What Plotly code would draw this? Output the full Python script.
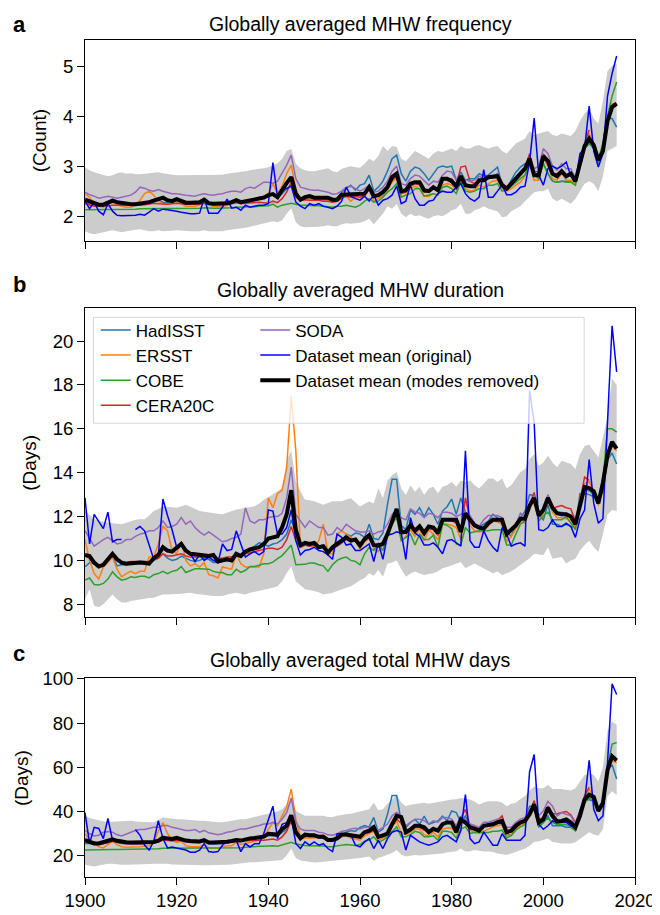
import plotly.graph_objects as go

years = list(range(1900, 2017))

# ---------------- Panel a: frequency (Count) ----------------
freq_hadisst = [
2.28, 2.25, 2.22, 2.20, 2.20, 2.25, 2.28, 2.25, 2.22, 2.22,
2.22, 2.23, 2.25, 2.27, 2.30, 2.33, 2.32, 2.28, 2.27, 2.30,
2.30, 2.27, 2.24, 2.24, 2.24, 2.25, 2.30, 2.23, 2.23, 2.22,
2.22, 2.24, 2.26, 2.30, 2.26, 2.28, 2.32, 2.34, 2.38, 2.40,
2.42, 2.42, 2.36, 2.45, 2.55, 2.62, 2.40, 2.32, 2.35, 2.36,
2.35, 2.34, 2.33, 2.33, 2.32, 2.35, 2.48, 2.55, 2.62, 2.52,
2.62, 2.65, 2.82, 2.50, 2.58, 2.70, 2.90, 3.15, 3.22, 2.85,
2.70, 2.90, 2.98, 2.95, 2.85, 2.72, 2.85, 2.97, 3.00, 2.98,
3.00, 2.72, 2.88, 2.72, 2.75, 2.75, 2.85, 2.80, 2.82, 2.90,
2.98, 2.62, 2.55, 2.72, 2.88, 2.98, 3.05, 3.05, 2.90, 2.88,
3.05, 2.85, 2.70, 2.68, 2.70, 2.70, 2.70, 2.70, 3.05, 3.35,
3.45, 3.35, 3.05, 3.38, 3.95, 3.95, 3.78]
freq_ersst = [
2.45, 2.38, 2.25, 2.20, 2.18, 2.25, 2.28, 2.23, 2.20, 2.18,
2.18, 2.22, 2.32, 2.45, 2.50, 2.42, 2.30, 2.25, 2.25, 2.28,
2.30, 2.25, 2.20, 2.20, 2.20, 2.22, 2.30, 2.22, 2.20, 2.20,
2.20, 2.22, 2.25, 2.30, 2.25, 2.28, 2.30, 2.32, 2.35, 2.40,
2.45, 2.65, 2.45, 2.60, 2.85, 3.02, 2.55, 2.30, 2.35, 2.35,
2.35, 2.35, 2.33, 2.32, 2.28, 2.30, 2.38, 2.40, 2.30, 2.38,
2.32, 2.40, 2.55, 2.30, 2.35, 2.42, 2.52, 2.68, 2.78, 2.38,
2.42, 2.55, 2.60, 2.55, 2.40, 2.40, 2.45, 2.42, 2.62, 2.65,
2.62, 2.52, 2.72, 2.55, 2.50, 2.52, 2.62, 2.58, 2.65, 2.70,
2.72, 2.55, 2.50, 2.55, 2.62, 2.68, 2.80, 3.05, 2.72, 2.72,
3.15, 3.00, 2.75, 2.72, 2.85, 2.72, 2.72, 2.62, 3.05, 3.35,
3.65, 3.40, 3.10, 3.35, 3.95, 4.25, 4.25]
freq_cobe = [
2.13, 2.13, 2.13, 2.13, 2.13, 2.14, 2.14, 2.14, 2.14, 2.14,
2.14, 2.14, 2.15, 2.15, 2.15, 2.15, 2.15, 2.15, 2.15, 2.15,
2.16, 2.16, 2.16, 2.16, 2.16, 2.16, 2.17, 2.16, 2.16, 2.16,
2.16, 2.17, 2.17, 2.18, 2.18, 2.18, 2.19, 2.19, 2.20, 2.20,
2.21, 2.24, 2.18, 2.22, 2.24, 2.26, 2.24, 2.22, 2.22, 2.21,
2.21, 2.21, 2.20, 2.19, 2.18, 2.20, 2.20, 2.22, 2.20, 2.18,
2.22, 2.30, 2.35, 2.28, 2.30, 2.38, 2.48, 2.55, 2.65, 2.38,
2.42, 2.45, 2.55, 2.55, 2.40, 2.42, 2.45, 2.42, 2.58, 2.60,
2.55, 2.45, 2.68, 2.50, 2.48, 2.50, 2.55, 2.55, 2.62, 2.62,
2.65, 2.50, 2.52, 2.60, 2.68, 2.75, 2.82, 3.05, 2.82, 2.75,
3.05, 2.85, 2.70, 2.68, 2.70, 2.68, 2.68, 2.62, 3.05, 3.35,
3.45, 3.40, 3.15, 3.45, 4.00, 4.40, 4.68]
freq_cera20c = [
2.25, 2.22, 2.20, 2.20, 2.20, 2.21, 2.22, 2.22, 2.21, 2.21,
2.21, 2.22, 2.22, 2.23, 2.24, 2.26, 2.25, 2.24, 2.24, 2.25,
2.26, 2.25, 2.24, 2.24, 2.24, 2.24, 2.26, 2.24, 2.24, 2.24,
2.24, 2.24, 2.25, 2.27, 2.25, 2.26, 2.27, 2.28, 2.28, 2.27,
2.26, 2.30, 2.27, 2.35, 2.48, 2.68, 2.38, 2.32, 2.33, 2.32,
2.32, 2.32, 2.30, 2.30, 2.28, 2.30, 2.35, 2.40, 2.38, 2.40,
2.38, 2.42, 2.55, 2.38, 2.40, 2.48, 2.58, 2.72, 2.80, 2.45,
2.48, 2.60, 2.65, 2.62, 2.48, 2.48, 2.55, 2.50, 2.72, 2.75,
2.75, 2.62, 2.98, 3.00, 2.70, 2.65, 2.72, 2.70, 2.75, 2.78,
2.85, 2.65, 2.58, 2.65, 2.75, 2.85, 2.95, 3.25, 2.85, 2.85,
3.25, 3.05, 2.85, 2.85, 2.92, 2.82, 2.82, 2.72, 3.10, 3.45,
3.72]
freq_soda = [
2.48, 2.43, 2.40, 2.36, 2.38, 2.40, 2.38, 2.36, 2.38, 2.40,
2.42, 2.48, 2.58, 2.56, 2.52, 2.50, 2.53, 2.50, 2.47, 2.45,
2.45, 2.43, 2.42, 2.41, 2.40, 2.43, 2.45, 2.43, 2.42, 2.44,
2.45, 2.48, 2.50, 2.50, 2.48, 2.55, 2.58, 2.56, 2.62, 2.68,
2.68, 2.66, 2.70, 2.85, 3.02, 3.22, 2.75, 2.58, 2.55, 2.53,
2.52, 2.52, 2.50, 2.48, 2.44, 2.45, 2.50, 2.58, 2.60, 2.55,
2.50, 2.55, 2.62, 2.48, 2.50, 2.58, 2.70, 2.90, 3.00, 2.65,
2.62, 2.75, 2.82, 2.80, 2.70, 2.62, 2.70, 2.68, 2.82, 2.90,
2.88, 2.72, 2.82, 2.72, 2.70, 2.72, 2.80, 2.75, 2.78, 2.82,
2.85, 2.68, 2.55, 2.65, 2.78, 2.88, 2.95, 3.12, 2.95, 3.00,
3.35, 3.25, 3.00, 2.92, 3.05, 2.95, 2.95, 2.75, 3.05, 3.40,
3.55]
freq_mean_orig = [
2.30, 2.15, 2.28, 2.10, 2.03, 2.25, 2.10, 2.02, 2.01, 2.01,
2.01, 2.02, 2.04, 2.02, 2.08, 2.15, 2.10, 2.14, 2.13, 2.12,
2.10, 2.08, 2.06, 2.05, 2.05, 2.06, 2.36, 2.06, 2.06, 2.06,
2.18, 2.34, 2.16, 2.18, 2.12, 2.22, 2.18, 2.20, 2.22, 2.22,
2.25, 3.07, 2.38, 2.55, 2.55, 2.60, 2.28, 2.20, 2.15, 2.25,
2.22, 2.25, 2.20, 2.18, 2.15, 2.20, 2.30, 2.58, 2.40, 2.35,
2.32, 2.40, 2.30, 2.42, 2.22, 2.32, 2.35, 2.42, 2.60, 2.25,
2.30, 2.62, 2.35, 2.22, 2.22, 2.30, 2.32, 2.45, 2.50, 2.48,
2.48, 2.58, 2.65, 2.45, 2.35, 2.30, 2.38, 2.93, 2.38, 2.38,
2.50, 2.62, 2.43, 2.43, 2.48, 2.58, 2.60, 3.08, 3.96, 2.82,
2.62, 2.95, 3.00, 2.95, 3.00, 3.08, 2.80, 2.68, 3.25, 3.35,
4.20, 3.30, 2.98, 3.25, 4.40, 4.85, 5.20]
freq_mean_nomodes = [
2.33, 2.29, 2.26, 2.23, 2.23, 2.27, 2.31, 2.28, 2.26, 2.25,
2.24, 2.24, 2.25, 2.26, 2.28, 2.31, 2.35, 2.37, 2.32, 2.30,
2.34, 2.30, 2.27, 2.27, 2.27, 2.28, 2.33, 2.26, 2.25, 2.25,
2.25, 2.26, 2.28, 2.32, 2.28, 2.30, 2.33, 2.34, 2.36, 2.37,
2.42, 2.44, 2.38, 2.53, 2.66, 2.78, 2.45, 2.33, 2.38, 2.40,
2.37, 2.37, 2.37, 2.37, 2.33, 2.33, 2.43, 2.43, 2.43, 2.43,
2.43, 2.45, 2.58, 2.40, 2.42, 2.48, 2.58, 2.78, 2.85, 2.50,
2.52, 2.65, 2.68, 2.68, 2.52, 2.50, 2.58, 2.52, 2.75, 2.75,
2.70, 2.60, 2.80, 2.62, 2.60, 2.60, 2.72, 2.72, 2.78, 2.80,
2.80, 2.62, 2.55, 2.65, 2.75, 2.85, 2.95, 3.15, 2.82, 2.82,
3.20, 3.10, 2.85, 2.80, 2.90, 2.80, 2.85, 2.70, 3.05, 3.40,
3.55, 3.42, 3.12, 3.30, 3.90, 4.18, 4.25]
freq_band_hi = [
2.98, 2.92, 2.88, 2.85, 2.82, 2.80, 2.82, 2.86, 2.88, 2.85,
2.86, 2.84, 2.84, 2.85, 2.86, 2.88, 2.88, 2.86, 2.84, 2.83,
2.82, 2.82, 2.82, 2.82, 2.82, 2.82, 2.83, 2.82, 2.82, 2.83,
2.83, 2.85, 2.86, 2.88, 2.88, 2.90, 2.92, 2.94, 2.95, 2.96,
2.98, 3.02, 3.06, 3.15, 3.30, 3.34, 3.05, 2.96, 2.92, 2.90,
2.90, 2.92, 2.94, 2.96, 2.90, 2.88, 2.95, 2.98, 3.00, 2.98,
2.97, 3.05, 3.15, 3.10, 3.20, 3.40, 3.30, 3.40, 3.38, 3.15,
3.10, 3.20, 3.30, 3.25, 3.20, 3.15, 3.25, 3.30, 3.28, 3.32,
3.35, 3.30, 3.40, 3.35, 3.35, 3.40, 3.42, 3.38, 3.35, 3.38,
3.40, 3.30, 3.25, 3.35, 3.45, 3.50, 3.55, 3.70, 3.62, 3.65,
3.68, 3.70, 3.62, 3.60, 3.65, 3.62, 3.60, 3.70, 3.90, 4.05,
4.15, 3.95, 3.85, 4.30, 4.90, 5.00, 5.05]
freq_band_lo = [
1.70, 1.66, 1.64, 1.66, 1.68, 1.70, 1.72, 1.70, 1.68, 1.70,
1.72, 1.73, 1.74, 1.72, 1.70, 1.70, 1.72, 1.70, 1.70, 1.71,
1.72, 1.71, 1.70, 1.70, 1.70, 1.70, 1.72, 1.70, 1.70, 1.70,
1.70, 1.72, 1.73, 1.75, 1.76, 1.77, 1.79, 1.81, 1.83, 1.86,
1.87, 1.90, 1.88, 1.92, 2.05, 2.16, 1.88, 1.80, 1.78, 1.78,
1.78, 1.79, 1.80, 1.82, 1.80, 1.80, 1.84, 1.86, 1.85, 1.86,
1.87, 1.90, 1.95, 1.84, 1.95, 2.05, 2.20, 2.15, 2.25, 2.05,
1.98, 2.05, 2.00, 2.02, 1.98, 1.95, 2.00, 2.02, 2.00, 2.05,
2.12, 2.15, 2.25, 2.05, 2.05, 2.12, 2.15, 2.20, 2.15, 2.12,
2.10, 1.98, 2.00, 2.10, 2.15, 2.20, 2.30, 2.40, 2.48, 2.50,
2.50, 2.55, 2.35, 2.30, 2.35, 2.30, 2.25, 2.35, 2.50, 2.65,
2.70, 2.65, 2.50, 2.80, 3.30, 3.35, 3.40]

# ---------------- Panel b: duration (Days) ----------------
dur_hadisst = [
9.70, 9.90, 9.85, 9.75, 9.80, 10.00, 10.20, 9.75, 9.80, 9.80,
9.85, 9.90, 9.95, 9.95, 9.90, 10.00, 10.10, 10.30, 10.10, 10.00,
10.05, 10.20, 10.10, 10.00, 9.95, 10.00, 10.10, 10.05, 9.90, 9.90,
9.95, 10.00, 9.95, 10.20, 10.15, 10.35, 10.55, 10.65, 10.80, 10.75,
10.65, 10.75, 10.80, 10.95, 11.20, 11.85, 11.20, 10.60, 10.70, 10.65,
10.70, 10.55, 10.60, 10.30, 10.55, 10.65, 10.80, 11.20, 11.10, 11.25,
11.20, 11.05, 11.65, 11.00, 10.95, 11.25, 12.55, 13.70, 13.70, 11.60,
11.40, 12.30, 12.10, 12.40, 12.00, 12.40, 12.10, 11.65, 12.25, 12.45,
12.80, 12.10, 12.85, 12.20, 11.90, 11.55, 11.55, 11.65, 11.80, 12.10,
11.95, 11.65, 11.30, 11.10, 11.65, 11.95, 12.25, 13.00, 12.95, 12.05,
11.85, 12.55, 11.65, 11.65, 11.55, 11.65, 11.55, 11.50, 13.05, 13.05,
13.00, 12.90, 12.75, 13.10, 14.60, 14.90, 14.40]
dur_ersst = [
10.95, 10.00, 9.40, 9.15, 9.70, 9.90, 10.15, 9.60, 9.25, 9.40,
9.50, 9.40, 9.50, 9.50, 10.15, 10.15, 10.75, 11.55, 11.35, 10.45,
10.30, 10.85, 10.00, 9.75, 9.85, 9.70, 9.90, 9.35, 9.30, 9.20,
9.70, 9.65, 9.60, 10.30, 9.85, 9.70, 9.70, 9.70, 9.70, 10.30,
12.85, 12.40, 13.05, 13.20, 14.20, 17.50, 15.00, 10.60, 10.70, 10.75,
10.60, 10.90, 11.65, 10.30, 10.30, 11.20, 11.35, 11.20, 11.05, 10.90,
10.50, 10.85, 11.00, 10.55, 10.40, 10.70, 11.05, 11.70, 12.10, 10.90,
11.10, 11.40, 11.10, 11.45, 10.90, 11.40, 11.20, 10.95, 11.70, 11.65,
11.60, 11.50, 10.95, 12.20, 11.60, 11.35, 11.30, 11.35, 11.60, 11.80,
11.75, 11.65, 10.85, 11.10, 11.45, 11.75, 11.70, 12.35, 12.70, 11.90,
12.15, 12.70, 12.20, 11.95, 11.95, 11.90, 11.80, 11.50, 12.45, 13.50,
13.60, 13.10, 12.50, 13.55, 14.70, 15.20, 15.00]
dur_cobe = [
9.10, 9.20, 8.90, 8.88, 8.95, 9.15, 9.48, 9.25, 9.10, 9.15,
9.25, 9.22, 9.28, 9.28, 9.20, 9.35, 9.40, 9.50, 9.40, 9.50,
9.55, 9.72, 9.45, 9.55, 9.62, 9.62, 9.62, 9.60, 9.50, 9.45,
9.45, 9.35, 9.35, 9.60, 9.45, 9.55, 9.72, 9.72, 9.78, 9.85,
9.85, 9.92, 10.08, 10.22, 10.45, 10.70, 9.80, 9.80, 9.82, 9.88,
9.88, 9.80, 9.75, 9.50, 9.80, 10.00, 10.10, 10.15, 10.00, 9.95,
9.80, 10.30, 10.60, 10.45, 10.75, 10.45, 11.20, 11.65, 11.95, 10.90,
11.05, 11.20, 10.70, 11.20, 10.95, 10.95, 11.15, 10.60, 11.65, 11.60,
11.45, 10.75, 10.70, 11.50, 11.25, 11.30, 11.35, 11.35, 11.35, 11.40,
11.40, 11.40, 10.70, 10.70, 11.20, 11.65, 11.80, 12.55, 12.75, 11.80,
12.05, 12.20, 11.85, 11.85, 11.85, 12.00, 11.70, 11.40, 12.75, 13.20,
13.20, 12.95, 12.60, 13.65, 16.00, 16.00, 15.85]
dur_cera20c = [
10.20, 10.10, 9.85, 9.75, 9.85, 10.00, 10.20, 10.00, 9.90, 9.90,
9.95, 9.95, 9.95, 9.95, 9.95, 10.05, 10.10, 10.30, 10.20, 10.20,
10.25, 10.30, 10.20, 10.15, 10.15, 10.15, 10.15, 10.15, 10.20, 10.10,
10.10, 10.15, 10.15, 10.25, 10.20, 10.30, 10.35, 10.40, 10.45, 10.50,
10.55, 10.55, 10.50, 10.60, 10.95, 11.55, 10.90, 10.60, 10.70, 10.65,
10.70, 10.60, 10.60, 10.40, 10.55, 10.65, 10.80, 10.95, 10.85, 10.90,
10.65, 10.90, 11.05, 10.70, 10.60, 10.75, 11.15, 11.75, 12.25, 11.20,
11.25, 11.55, 11.30, 11.55, 11.15, 11.45, 11.40, 11.15, 11.80, 11.85,
11.80, 11.70, 11.30, 12.85, 11.90, 11.55, 11.45, 11.45, 11.70, 11.85,
11.85, 11.80, 11.15, 11.35, 11.60, 11.90, 11.95, 12.60, 13.10, 12.05,
12.35, 12.90, 12.35, 12.45, 12.50, 12.40, 12.35, 11.80, 12.70, 13.80,
13.65]
dur_soda = [
11.35, 11.00, 10.65, 10.80, 10.95, 11.05, 10.90, 10.75, 10.80, 10.95,
10.95, 11.10, 11.20, 11.25, 11.35, 11.35, 11.50, 11.80, 11.50, 11.55,
11.65, 11.95, 11.65, 11.80, 11.50, 11.30, 11.15, 11.30, 11.15, 11.00,
10.85, 10.90, 11.00, 11.05, 11.20, 12.40, 11.80, 11.70, 11.85, 11.85,
11.95, 12.00, 12.00, 12.15, 12.85, 14.25, 12.10, 11.80, 11.50, 11.80,
11.65, 11.50, 11.50, 11.15, 11.20, 11.50, 11.35, 11.65, 11.50, 11.35,
11.30, 11.30, 11.35, 11.20, 11.30, 11.35, 11.65, 12.10, 12.30, 11.95,
11.85, 12.35, 12.20, 12.15, 11.95, 12.15, 12.10, 11.95, 12.20, 12.20,
12.15, 12.00, 12.10, 12.20, 12.05, 11.70, 11.55, 11.85, 12.05, 12.05,
12.05, 11.95, 11.40, 11.35, 11.65, 12.15, 12.00, 12.45, 12.95, 12.20,
12.35, 13.00, 12.45, 12.20, 12.20, 12.10, 12.05, 11.75, 12.60, 13.30,
13.15]
dur_mean_orig = [
12.85, 10.75, 12.10, 11.80, 11.45, 12.20, 10.85, 10.95, 10.95, None,
None, 11.40, 11.55, 11.35, 10.65, 10.05, 10.20, 12.80, 12.05, 11.40,
10.60, 10.70, 10.45, 10.30, 9.95, 10.25, 10.00, 10.15, 10.00, 9.90,
10.75, 10.45, 10.50, 11.35, 10.75, 10.15, 10.30, 10.40, 10.25, 10.40,
12.30, 12.25, 11.20, 11.20, 11.50, 12.30, 10.90, 10.25, 10.45, 10.50,
10.60, 10.45, 10.40, 10.25, 10.05, 11.20, 11.05, 10.70, 10.75, 10.45,
10.45, 10.60, 10.75, 9.95, 10.80, 10.05, 11.15, 11.20, 11.30, 11.25,
10.05, 11.95, 11.25, 11.10, 10.70, 10.70, 10.80, 10.60, 10.30, 10.90,
10.95, 10.80, 10.65, 15.00, 10.90, 10.60, 10.60, 11.35, 10.90, 10.60,
10.40, 11.50, 11.20, 10.65, 10.75, 10.80, 10.65, 17.75, 16.30, 11.40,
11.35, 11.50, 11.85, 11.55, 11.55, 11.70, 11.55, 11.05, 11.90, 12.30,
14.60, 12.60, 11.70, 11.90, 16.30, 20.70, 18.60]
dur_mean_nomodes = [
10.25, 10.20, 9.90, 9.72, 9.80, 10.05, 10.30, 10.05, 9.90, 9.85,
9.88, 9.88, 9.90, 9.88, 9.85, 10.10, 10.25, 10.60, 10.45, 10.40,
10.55, 10.75, 10.45, 10.30, 10.28, 10.25, 10.22, 10.20, 10.25, 9.95,
10.00, 10.05, 10.00, 10.30, 10.20, 10.40, 10.50, 10.55, 10.60, 10.75,
11.00, 11.05, 11.10, 11.50, 12.10, 13.20, 11.40, 10.70, 10.80, 10.75,
10.80, 10.60, 10.65, 10.35, 10.60, 10.75, 10.90, 11.05, 10.90, 10.95,
10.68, 10.97, 11.15, 10.70, 10.68, 10.75, 11.20, 11.80, 12.35, 11.30,
11.30, 11.60, 11.35, 11.55, 11.25, 11.55, 11.50, 11.25, 11.85, 11.85,
11.85, 11.85, 11.30, 12.15, 11.85, 11.60, 11.50, 11.45, 11.70, 11.85,
11.85, 11.85, 11.20, 11.40, 11.60, 11.90, 11.90, 12.50, 12.85, 12.05,
12.30, 12.85, 12.40, 12.15, 12.10, 12.10, 12.00, 11.65, 12.55, 13.35,
13.30, 13.15, 12.60, 13.55, 14.80, 15.40, 15.10]
dur_band_hi = [
12.25, 12.05, 11.88, 11.80, 11.75, 11.73, 11.70, 11.68, 11.65, 11.72,
11.80, 11.85, 11.88, 11.88, 12.05, 12.25, 12.35, 12.47, 12.45, 12.42,
12.40, 12.47, 12.54, 12.45, 12.35, 12.25, 12.22, 12.20, 12.17, 12.13,
12.10, 12.18, 12.25, 12.32, 12.36, 12.40, 12.44, 12.47, 12.60, 12.77,
12.88, 13.00, 13.15, 13.30, 14.55, 15.00, 13.60, 13.15, 12.77, 12.74,
12.70, 12.62, 12.54, 12.62, 12.70, 12.70, 12.70, 12.78, 12.84, 12.65,
12.46, 12.58, 12.69, 12.60, 13.28, 12.83, 13.65, 13.88, 14.03, 13.28,
12.98, 13.43, 13.13, 13.36, 12.98, 13.28, 13.36, 13.06, 13.36, 13.43,
13.58, 13.36, 13.65, 13.58, 13.65, 13.43, 13.28, 13.50, 13.73, 13.73,
13.58, 13.73, 13.28, 13.43, 13.73, 14.03, 14.17, 14.62, 14.84, 14.32,
14.47, 14.77, 14.47, 14.25, 14.55, 14.47, 14.40, 14.17, 14.84, 15.22,
15.29, 14.99, 14.69, 15.59, 16.55, 18.30, 18.00]
dur_band_lo = [
8.23, 8.68, 7.93, 7.86, 8.00, 8.23, 8.45, 8.23, 8.08, 8.08,
8.15, 8.18, 8.23, 8.25, 8.28, 8.30, 8.38, 8.45, 8.45, 8.45,
8.45, 8.48, 8.50, 8.53, 8.48, 8.45, 8.42, 8.40, 8.38, 8.38,
8.38, 8.45, 8.50, 8.53, 8.48, 8.45, 8.52, 8.56, 8.60, 8.64,
8.68, 8.75, 8.82, 9.05, 9.42, 9.72, 9.05, 8.85, 8.68, 8.65,
8.60, 8.55, 8.45, 8.48, 8.53, 8.60, 8.68, 8.75, 8.82, 8.95,
9.10, 9.20, 9.41, 9.30, 9.56, 9.26, 9.86, 9.90, 10.00, 9.60,
9.26, 9.40, 9.49, 9.40, 9.34, 9.38, 9.41, 9.50, 9.64, 9.70,
9.78, 9.85, 9.93, 9.64, 9.75, 9.86, 9.75, 9.64, 9.55, 9.41,
9.49, 9.34, 9.41, 9.50, 9.64, 9.80, 9.93, 10.10, 10.30, 10.25,
10.23, 10.60, 10.08, 10.12, 10.16, 9.86, 10.00, 10.08, 10.45, 10.70,
10.90, 10.60, 10.38, 11.20, 12.09, 12.31, 12.24]

# ---------------- Panel c: total MHW days (Days) ----------------
days_hadisst = [
25.5, 25.5, 25.0, 25.0, 25.4, 25.8, 26.6, 25.9, 25.5, 25.4,
25.2, 25.2, 25.3, 25.4, 25.5, 25.8, 26.4, 27.4, 27.0, 26.6,
27.0, 26.6, 26.0, 25.9, 25.8, 25.8, 26.4, 25.4, 25.3, 25.3,
25.4, 25.7, 26.0, 26.5, 26.4, 27.0, 27.5, 27.8, 28.2, 28.6,
29.0, 29.0, 28.8, 30.5, 31.8, 35.5, 29.5, 27.6, 28.6, 28.4,
28.4, 28.0, 28.0, 27.0, 27.2, 28.0, 29.5, 30.6, 31.3, 31.0,
32.8, 33.6, 33.0, 37.3, 30.6, 32.0, 38.7, 47.2, 47.2, 35.0,
32.8, 35.0, 36.4, 34.2, 37.9, 34.2, 35.0, 35.7, 37.9, 35.7,
40.2, 39.5, 35.0, 37.9, 33.5, 32.8, 32.1, 33.5, 34.2, 35.0,
35.0, 34.2, 29.9, 29.2, 32.1, 34.2, 35.7, 42.4, 42.4, 32.8,
35.0, 37.9, 33.5, 33.5, 33.5, 32.8, 32.8, 31.3, 40.9, 45.3,
45.3, 44.6, 40.9, 45.3, 58.5, 61.2, 54.7]
days_ersst = [
30.0, 27.0, 25.5, 24.0, 23.5, 25.0, 26.5, 25.0, 24.0, 23.8,
23.8, 23.8, 24.0, 24.2, 24.5, 26.0, 31.0, 35.0, 30.0, 27.0,
26.0, 26.5, 24.5, 24.0, 24.0, 24.0, 25.0, 23.5, 23.3, 23.3,
24.0, 24.5, 24.5, 26.0, 25.0, 25.5, 26.0, 26.5, 27.0, 28.0,
32.0, 35.0, 33.5, 38.0, 42.0, 50.1, 36.5, 28.5, 28.0, 28.0,
28.0, 28.5, 29.5, 26.5, 26.5, 27.5, 28.5, 29.0, 28.0, 27.5,
27.0, 29.0, 30.0, 31.0, 27.0, 28.0, 29.0, 33.0, 35.5, 30.5,
29.5, 30.5, 32.0, 32.0, 29.5, 29.0, 30.5, 28.5, 32.0, 32.5,
32.5, 30.0, 34.5, 36.0, 31.5, 30.5, 30.0, 31.0, 32.0, 33.0,
33.5, 34.0, 29.0, 29.5, 32.0, 34.0, 34.5, 38.0, 41.5, 34.0,
35.5, 40.5, 37.0, 35.0, 35.5, 35.5, 34.5, 32.0, 38.5, 47.0,
50.0, 47.0, 40.0, 44.0, 58.0, 63.0, 62.0]
days_cobe = [
22.5, 22.6, 22.6, 22.6, 22.6, 22.7, 22.8, 22.8, 22.8, 22.8,
22.8, 22.9, 22.9, 22.9, 23.0, 23.0, 23.1, 23.3, 23.3, 23.3,
23.3, 23.5, 23.3, 23.3, 23.4, 23.4, 23.5, 23.4, 23.4, 23.4,
23.4, 23.5, 23.5, 23.6, 23.6, 23.8, 24.0, 24.0, 24.2, 24.2,
24.3, 24.5, 24.2, 24.8, 25.3, 26.0, 25.2, 24.8, 24.6, 24.5,
24.5, 24.3, 24.3, 24.0, 24.0, 24.4, 24.7, 25.0, 24.8, 24.6,
25.0, 26.5, 27.0, 28.5, 26.0, 27.0, 28.5, 31.0, 33.0, 28.5,
28.5, 29.5, 31.0, 30.5, 28.5, 28.5, 29.0, 27.0, 31.0, 31.0,
30.5, 28.0, 32.0, 33.0, 30.0, 30.5, 30.5, 30.5, 30.5, 31.0,
31.0, 31.5, 28.0, 29.0, 31.5, 33.0, 34.0, 38.5, 41.0, 33.5,
35.0, 37.0, 35.0, 34.0, 34.0, 34.0, 33.0, 31.5, 38.0, 44.0,
46.0, 45.0, 40.0, 44.5, 60.0, 70.5, 71.2]
days_cera20c = [
27.5, 26.5, 26.0, 25.5, 25.5, 25.8, 26.5, 26.0, 25.6, 25.5,
25.4, 25.4, 25.4, 25.5, 25.6, 25.8, 26.2, 27.0, 26.8, 26.8,
27.0, 26.8, 26.4, 26.3, 26.3, 26.3, 26.5, 26.0, 26.0, 26.0,
26.0, 26.0, 26.2, 26.5, 26.4, 26.7, 26.9, 27.0, 27.0, 27.0,
27.2, 27.5, 27.0, 28.5, 31.0, 36.0, 29.5, 28.0, 29.0, 28.8,
28.8, 28.5, 28.5, 27.5, 27.5, 28.0, 29.0, 29.5, 29.0, 29.0,
28.5, 30.0, 30.5, 31.5, 28.5, 29.0, 30.0, 34.0, 36.5, 34.5,
31.0, 32.0, 33.5, 33.0, 31.5, 31.0, 32.5, 31.5, 34.5, 35.0,
35.0, 32.0, 37.0, 41.0, 33.5, 33.0, 32.5, 33.5, 34.0, 34.5,
36.0, 38.0, 31.0, 31.5, 34.0, 35.5, 36.5, 39.0, 45.0, 36.0,
37.5, 42.5, 39.0, 39.0, 39.5, 40.0, 38.5, 35.0, 40.0, 47.0,
51.0]
days_soda = [
31.4, 29.9, 28.9, 29.2, 30.6, 30.9, 30.6, 29.4, 28.9, 29.9,
30.6, 31.4, 31.8, 31.8, 32.4, 32.8, 32.8, 33.6, 33.6, 32.8,
32.4, 31.8, 31.4, 31.4, 31.8, 30.6, 31.4, 30.3, 29.9, 29.4,
29.9, 30.6, 30.9, 31.4, 32.1, 32.1, 32.8, 33.2, 33.6, 34.3,
34.3, 35.1, 34.3, 36.5, 39.5, 46.1, 35.1, 32.1, 31.4, 31.4,
31.4, 30.6, 30.3, 29.4, 29.2, 29.9, 30.9, 31.4, 32.1, 32.4,
32.1, 32.8, 32.8, 33.6, 31.4, 32.8, 34.3, 38.0, 39.5, 38.0,
33.6, 35.1, 36.5, 36.5, 35.8, 34.3, 35.8, 35.1, 37.3, 37.3,
36.5, 33.6, 37.3, 36.5, 34.3, 33.6, 32.8, 35.1, 35.1, 35.8,
36.5, 36.5, 32.8, 32.8, 35.1, 36.5, 37.3, 41.0, 41.7, 38.0,
40.2, 44.6, 42.4, 38.0, 39.5, 38.7, 38.0, 34.3, 40.2, 46.1,
46.9]
days_mean_orig = [
39.5, 25.5, 32.8, 32.3, 27.7, 36.8, 27.0, 26.8, 26.8, None,
None, 31.8, 29.2, 24.7, 22.5, 26.5, 35.8, 27.7, 23.5, 23.9,
23.5, 23.2, 22.5, 21.5, 21.5, 22.5, 25.4, 21.8, 21.5, 21.8,
24.7, 26.6, 26.2, 26.9, 21.8, 25.4, 23.9, 25.4, 25.4, 30.0,
36.5, 42.4, 27.7, 34.2, 34.9, 37.0, 25.5, 23.2, 26.2, 24.7,
26.2, 24.7, 25.4, 23.2, 21.8, 29.9, 29.9, 29.2, 29.5, 24.7,
23.9, 26.2, 27.7, 23.2, 26.9, 23.2, 27.7, 30.6, 31.3, 30.6,
22.5, 29.2, 27.7, 26.2, 25.4, 24.7, 25.4, 26.2, 28.5, 29.2,
27.7, 26.2, 31.3, 47.6, 27.7, 25.4, 26.2, 30.6, 27.7, 24.7,
24.7, 29.9, 26.9, 26.9, 26.9, 26.9, 29.2, 58.0, 65.8, 34.2,
31.9, 33.5, 35.7, 35.0, 35.0, 35.0, 33.5, 32.8, 40.2, 44.6,
63.1, 41.0, 35.8, 38.0, 62.0, 97.8, 93.0]
days_mean_nomodes = [
27.0, 26.3, 25.5, 25.5, 26.2, 26.5, 27.4, 26.7, 26.2, 26.0,
25.9, 25.9, 25.9, 25.9, 26.0, 26.2, 26.8, 28.1, 27.8, 27.5,
28.0, 27.3, 26.8, 26.6, 26.5, 26.4, 27.0, 25.9, 25.9, 25.9,
26.0, 26.3, 26.6, 27.0, 26.8, 27.5, 27.8, 28.0, 28.3, 28.6,
29.9, 29.9, 29.5, 32.0, 33.5, 38.3, 30.7, 27.8, 29.5, 29.2,
29.2, 28.5, 28.5, 27.1, 27.1, 27.8, 29.5, 29.5, 29.2, 29.2,
28.5, 30.6, 31.3, 32.8, 28.5, 29.2, 29.9, 34.2, 38.0, 37.4,
30.6, 31.8, 33.5, 33.5, 32.8, 30.6, 32.1, 31.3, 34.2, 35.0,
35.0, 30.6, 36.4, 35.0, 32.8, 32.1, 31.3, 33.5, 33.8, 34.2,
35.0, 35.7, 30.6, 31.3, 33.5, 35.0, 35.7, 38.7, 43.2, 35.0,
36.4, 41.7, 38.0, 35.4, 35.7, 36.4, 35.0, 32.8, 38.0, 45.4,
47.6, 46.6, 40.2, 43.8, 58.7, 65.0, 63.1]
days_band_hi = [
38.0, 37.0, 36.5, 36.0, 35.5, 35.1, 35.3, 35.5, 35.5, 35.8,
35.8, 35.5, 35.3, 35.1, 35.1, 35.1, 36.0, 37.3, 37.0, 36.5,
36.5, 36.5, 36.3, 36.0, 35.8, 35.8, 35.8, 35.5, 35.3, 35.1,
35.1, 35.5, 35.8, 36.3, 36.5, 36.5, 37.0, 37.5, 38.0, 38.5,
38.7, 39.5, 40.0, 41.0, 43.0, 45.4, 40.2, 39.0, 38.0, 38.0,
38.0, 38.0, 38.0, 37.5, 37.5, 38.0, 38.5, 38.7, 39.0, 39.5,
40.2, 40.5, 41.0, 43.9, 40.5, 41.0, 43.5, 45.4, 47.6, 44.0,
42.4, 43.0, 43.2, 43.5, 43.9, 43.5, 43.9, 44.0, 44.6, 45.0,
45.4, 45.5, 46.1, 45.8, 45.4, 44.5, 43.2, 44.0, 44.6, 44.6,
44.6, 44.0, 42.4, 43.5, 43.9, 45.5, 47.0, 49.5, 51.3, 50.5,
50.5, 52.0, 50.2, 50.2, 50.2, 49.8, 49.5, 50.5, 53.6, 56.5,
57.2, 56.5, 53.6, 60.0, 76.4, 80.8, 79.3]
days_band_lo = [
15.9, 15.5, 15.1, 15.5, 16.0, 16.3, 16.3, 16.0, 15.8, 15.9,
15.9, 16.0, 16.0, 16.0, 16.2, 16.3, 16.3, 16.5, 16.3, 16.0,
15.9, 15.9, 15.8, 15.8, 15.7, 15.6, 15.6, 15.6, 15.6, 15.6,
15.6, 15.8, 16.0, 16.3, 16.5, 16.9, 17.0, 17.0, 17.1, 17.2,
17.3, 17.6, 17.8, 18.0, 20.0, 23.2, 18.9, 17.8, 17.4, 17.2,
16.9, 17.0, 17.2, 17.4, 17.5, 17.6, 17.8, 18.0, 18.2, 18.5,
18.9, 19.2, 19.6, 17.5, 19.0, 19.6, 20.3, 21.2, 22.5, 20.5,
19.6, 19.8, 20.3, 20.0, 20.2, 20.3, 20.5, 20.6, 21.0, 21.4,
21.8, 22.0, 23.2, 21.8, 22.0, 22.5, 22.2, 21.8, 21.8, 21.6,
21.0, 20.6, 20.3, 21.0, 21.8, 22.5, 23.2, 24.5, 26.2, 26.5,
27.0, 27.8, 26.2, 25.8, 25.5, 25.5, 25.5, 26.0, 27.6, 29.0,
30.6, 29.5, 29.0, 32.0, 46.9, 49.1, 47.5]

series_names = ["HadISST", "ERSST", "COBE", "CERA20C", "SODA",
                "Dataset mean (original)", "Dataset mean (modes removed)"]
series_colors = ["#1f77b4", "#ff7f0e", "#2ca02c", "#d62728", "#9467bd",
                 "#0000ff", "#000000"]
series_widths = [1.5, 1.5, 1.5, 1.5, 1.5, 1.5, 4]
series_legend = ["legend", "legend", "legend", "legend",
                 "legend2", "legend2", "legend2"]

panels = [
    ("x", "y", freq_band_lo, freq_band_hi,
     [freq_hadisst, freq_ersst, freq_cobe, freq_cera20c, freq_soda,
      freq_mean_orig, freq_mean_nomodes]),
    ("x2", "y2", dur_band_lo, dur_band_hi,
     [dur_hadisst, dur_ersst, dur_cobe, dur_cera20c, dur_soda,
      dur_mean_orig, dur_mean_nomodes]),
    ("x3", "y3", days_band_lo, days_band_hi,
     [days_hadisst, days_ersst, days_cobe, days_cera20c, days_soda,
      days_mean_orig, days_mean_nomodes]),
]

fig = go.Figure()
for xa, ya, lo, hi, series in panels:
    fig.add_trace(go.Scatter(x=years, y=lo, mode="lines", line=dict(width=0, color="#cccccc"),
                             xaxis=xa, yaxis=ya, showlegend=False, hoverinfo="skip"))
    fig.add_trace(go.Scatter(x=years, y=hi, mode="lines", line=dict(width=0, color="#cccccc"),
                             fill="tonexty", fillcolor="#cccccc",
                             xaxis=xa, yaxis=ya, showlegend=False, hoverinfo="skip"))
    for i, vals in enumerate(series):
        xs = years[:len(vals)]
        fig.add_trace(go.Scatter(
            x=xs, y=vals, mode="lines", name=series_names[i],
            line=dict(color=series_colors[i], width=series_widths[i]),
            connectgaps=False,
            xaxis=xa, yaxis=ya,
            showlegend=(xa == "x2"),
            legend=series_legend[i]))

FONT = "Liberation Sans, Arial, Helvetica, sans-serif"
TICKFONT = dict(family=FONT, size=18.5, color="black")

common_x = dict(range=[1900, 2020], tickvals=[1900, 1920, 1940, 1960, 1980, 2000, 2020],
                showline=True, linecolor="black", linewidth=1, mirror=True,
                ticks="outside", ticklen=7, tickwidth=1, tickcolor="black",
                showgrid=False, zeroline=False, tickfont=TICKFONT, domain=[0, 1])
common_y = dict(showline=True, linecolor="black", linewidth=1, mirror=True,
                ticks="outside", ticklen=7, tickwidth=1, tickcolor="black",
                showgrid=False, zeroline=False, tickfont=TICKFONT)

H = 854.0
def py(p):
    return (886.0 - p) / H

def px(p):
    return (p - 77.0) / 562.0

legend_common = dict(xanchor="left", yanchor="top", bgcolor="rgba(0,0,0,0)", borderwidth=0,
                     font=dict(family=FONT, size=17, color="black"), tracegroupgap=0,
                     traceorder="normal")

fig.update_layout(
    width=660, height=915,
    margin=dict(l=77, r=21, t=32, b=29),
    paper_bgcolor="white", plot_bgcolor="white",
    font=dict(family=FONT, color="black"),
    xaxis=dict(common_x, anchor="y", showticklabels=False),
    xaxis2=dict(common_x, anchor="y2", showticklabels=False),
    xaxis3=dict(common_x, anchor="y3", showticklabels=True),
    yaxis=dict(common_y, anchor="x", domain=[py(237.3), 1.0], range=[1.5, 5.52],
               tickvals=[2, 3, 4, 5]),
    yaxis2=dict(common_y, anchor="x2", domain=[py(620.7), py(305.7)], range=[7.42, 21.5],
                tickvals=[8, 10, 12, 14, 16, 18, 20]),
    yaxis3=dict(common_y, anchor="x3", domain=[0, py(683.3)], range=[10.3, 100.3],
                tickvals=[20, 40, 60, 80, 100]),
    legend=dict(legend_common, x=px(88.0), y=py(310.0)),
    legend2=dict(legend_common, x=px(251.0), y=py(310.0)),
    showlegend=True,
)

# legend frame (semi-transparent, like matplotlib's legend box)
fig.add_shape(type="rect", xref="paper", yref="paper",
              x0=px(85.6), x1=px(587.0), y0=py(423.0), y1=py(315.0),
              fillcolor="rgba(255,255,255,0.8)", line=dict(color="#d6d6d6", width=1),
              layer="above")

titles = [("Globally averaged MHW frequency", 15.5),
          ("Globally averaged MHW duration", 287.0),
          ("Globally averaged total MHW days", 665.0)]
for txt, yy in titles:
    fig.add_annotation(text=txt, x=0.5, y=py(yy), xref="paper", yref="paper",
                       xanchor="center", yanchor="middle", showarrow=False,
                       font=dict(family=FONT, size=19.5, color="black"))

letters = [("a", 10.0, 16.5), ("b", 10.0, 281.0), ("c", 10.0, 658.0)]
for txt, xx, yy in letters:
    fig.add_annotation(text="<b>%s</b>" % txt, x=px(xx), y=py(yy), xref="paper", yref="paper",
                       xanchor="center", yanchor="middle", showarrow=False,
                       font=dict(family=FONT, size=22, color="black"))

ylabels = [("(Count)", 30.5, (32.3 + 237.3) / 2),
           ("(Days)", 20.0, (305.7 + 620.7) / 2),
           ("(Days)", 12.0, (683.3 + 886.0) / 2)]
for txt, xx, yy in ylabels:
    fig.add_annotation(text=txt, x=px(xx), y=py(yy), xref="paper", yref="paper",
                       xanchor="center", yanchor="middle", showarrow=False, textangle=-90,
                       font=dict(family=FONT, size=19, color="black"))

fig.write_html("out.html")
